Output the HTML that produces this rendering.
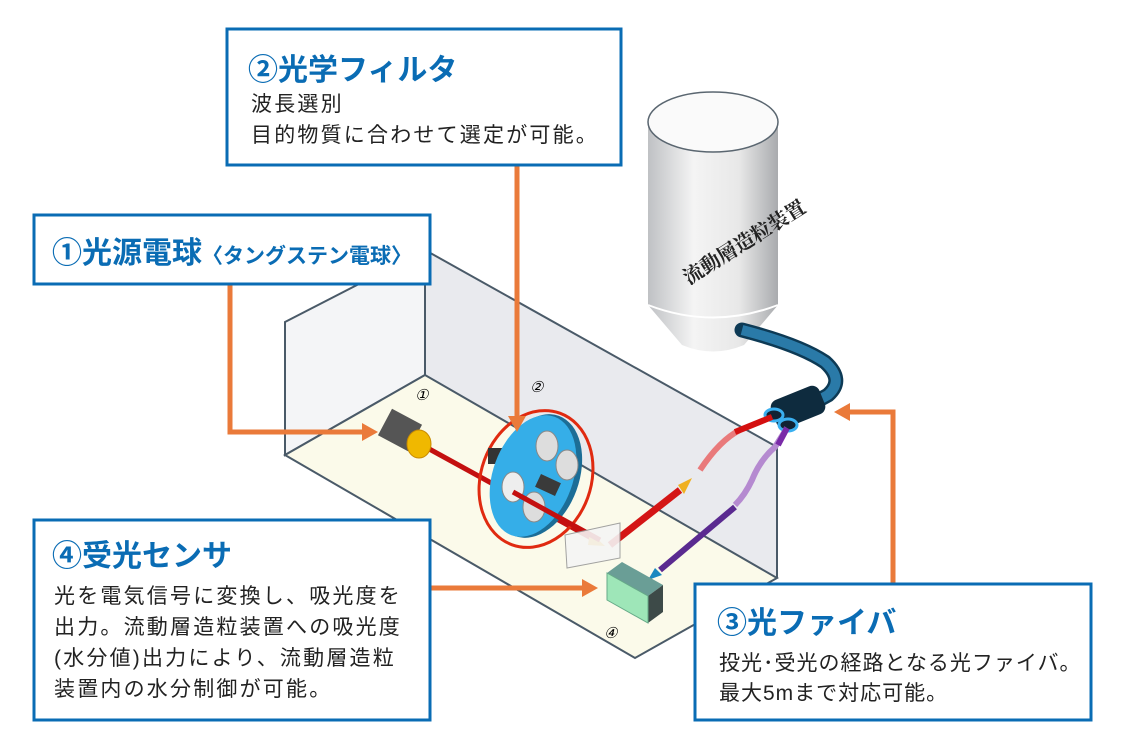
<!DOCTYPE html>
<html><head><meta charset="utf-8"><style>
html,body{margin:0;padding:0;background:#fff}
svg{display:block}
.t{font-family:"Liberation Sans","Noto Sans CJK JP",sans-serif}
</style></head><body>
<svg width="1125" height="750" viewBox="0 0 1125 750" xmlns="http://www.w3.org/2000/svg">
<defs>
<linearGradient id="silo" x1="0" x2="1"><stop offset="0" stop-color="#bfc1c4"/><stop offset="0.35" stop-color="#f4f4f4"/><stop offset="0.7" stop-color="#e8e8e8"/><stop offset="1" stop-color="#a9abae"/></linearGradient>
</defs>
<polygon points="285,322 425,250 425,375 285,455" fill="#f4f5f7" stroke="#4a5a68" stroke-width="2"/>
<polygon points="425,250 777,447 777,578 425,375" fill="#e9eaee"/>
<polygon points="285,455 425,375 777,578 635,658" fill="#fbfaea" stroke="#4a5a68" stroke-width="2"/>
<line x1="425" y1="250" x2="777" y2="447" stroke="#4a5a68" stroke-width="2"/>
<line x1="425" y1="250" x2="425" y2="375" stroke="#4a5a68" stroke-width="2"/>
<line x1="777" y1="447" x2="777" y2="578" stroke="#4a5a68" stroke-width="2"/>
<path d="M648,122 L648,305 L682,345 Q713,358 744,345 L778,305 L778,122 Z" fill="url(#silo)"/>
<path d="M648,305 Q713,330 778,305" fill="none" stroke="#fff" stroke-width="2"/>
<ellipse cx="713" cy="122" rx="65" ry="30" fill="#fafafa" stroke="#5a6670" stroke-width="1.5"/>
<text x="0" y="0" transform="translate(748,248) rotate(-32)" text-anchor="middle" font-family="Liberation Serif,'Noto Serif CJK SC',serif" font-size="20" font-weight="bold" fill="#222">流動層造粒装置</text>
<path d="M742,330 Q800,345 825,362 Q845,380 828,395 L810,405" fill="none" stroke="#0d3a55" stroke-width="15" stroke-linecap="round"/>
<path d="M742,330 Q800,345 825,362 Q845,380 828,395 L810,405" fill="none" stroke="#2a7aa8" stroke-width="10"/>
<rect x="772" y="392" width="52" height="30" rx="8" fill="#0e2b3e" transform="rotate(-22 798 407)"/>
<ellipse cx="774" cy="415" rx="9" ry="6" fill="#123" stroke="#3ab0f0" stroke-width="3"/>
<ellipse cx="788" cy="425" rx="9" ry="6" fill="#123" stroke="#3ab0f0" stroke-width="3"/>
<path d="M772,417 L740,430 Q720,440 700,470" fill="none" stroke="#e84a4a" stroke-width="6" opacity="0.7"/>
<path d="M772,417 L735,432" stroke="#d41010" stroke-width="6"/>
<path d="M787,428 L775,447 Q760,460 752,480 Q745,495 735,505" fill="none" stroke="#b58ad0" stroke-width="6"/>
<path d="M787,428 L778,445" stroke="#7a2aa8" stroke-width="6"/>
<line x1="422" y1="445" x2="595" y2="540" stroke="#c41010" stroke-width="5"/>
<polygon points="590,532 605,546 588,545" fill="#f0b020"/>
<line x1="610" y1="545" x2="680" y2="490" stroke="#d41515" stroke-width="7"/>
<polygon points="678,485 692,478 684,494" fill="#f0b020"/>
<line x1="735" y1="507" x2="660" y2="570" stroke="#5a2a90" stroke-width="6"/>
<polygon points="655,568 648,580 662,575" fill="#1a88c0"/>
<rect x="383" y="415" width="34" height="30" fill="#555" transform="rotate(28 400 430)"/>
<ellipse cx="419" cy="444" rx="12" ry="14" fill="#f0b800" stroke="#c88a00"/>
<ellipse cx="536" cy="479" rx="55" ry="70" fill="none" stroke="#e02a10" stroke-width="3" transform="rotate(20 536 479)"/>
<rect x="488" y="448" width="16" height="16" fill="#333"/>
<ellipse cx="537" cy="476" rx="42" ry="64" fill="#1c6d96" transform="rotate(20 537 476)"/>
<ellipse cx="533" cy="476" rx="40" ry="63" fill="#35aee8" transform="rotate(20 533 476)"/>
<ellipse cx="547" cy="446" rx="11" ry="15" fill="#ddd" stroke="#888"/>
<ellipse cx="567" cy="465" rx="11" ry="15" fill="#ddd" stroke="#888"/>
<ellipse cx="513" cy="487" rx="11" ry="15" fill="#eee" stroke="#888"/>
<ellipse cx="534" cy="507" rx="11" ry="15" fill="#ddd" stroke="#888"/>
<rect x="537" y="478" width="22" height="14" fill="#3a3a3a" transform="rotate(25 548 485)"/>
<line x1="513" y1="492" x2="600" y2="540" stroke="#c41010" stroke-width="5"/>
<text x="530" y="392" font-family="Liberation Serif,serif" font-size="15" font-style="italic">②</text>
<text x="415" y="400" font-family="Liberation Serif,serif" font-size="15" font-style="italic">①</text>
<polygon points="565,535 620,523 620,558 567,568" fill="#f5f5f5" stroke="#999" opacity="0.9"/>
<polygon points="607,573 622,562 663,585 648,596" fill="#6a9e96"/>
<polygon points="648,596 663,585 663,612 648,623" fill="#3d4a48"/>
<polygon points="607,573 648,596 648,623 607,600" fill="#9ee6b8" stroke="#6a8" stroke-width="1"/>
<text x="604" y="638" font-family="Liberation Serif,serif" font-size="15" font-style="italic">④</text>
<g stroke="#ea7a3a" stroke-width="5" fill="none">
<path d="M517,166 V420"/>
<path d="M230,284 V432 H365"/>
<path d="M430,588 H585"/>
<path d="M893,583 V412 H848"/>
</g>
<g fill="#ea7a3a">
<polygon points="508,416 526,416 517,432"/>
<polygon points="362,423 362,441 378,432"/>
<polygon points="582,579 582,597 598,588"/>
<polygon points="850,403 850,421 834,412"/>
</g>
<g fill="#fff" stroke="#0a6cb4" stroke-width="3">
<rect x="227" y="29" width="394" height="136"/>
<rect x="34" y="215" width="396" height="69"/>
<rect x="34" y="520" width="396" height="200"/>
<rect x="695" y="584" width="396" height="136"/>
</g>
<g class="t" font-size="21" fill="#222" letter-spacing="2.2">
<text x="248" y="80" font-size="30" letter-spacing="0" font-weight="bold" fill="#0a6cb4">②光学フィルタ</text>
<text x="251" y="111">波長選別</text>
<text x="251" y="142">目的物質に合わせて選定が可能。</text>
<text x="52" y="263" font-size="30" letter-spacing="0" font-weight="bold" fill="#0a6cb4">①光源電球<tspan font-size="21">〈タングステン電球〉</tspan></text>
<text x="52" y="566" font-size="30" letter-spacing="0" font-weight="bold" fill="#0a6cb4">④受光センサ</text>
<text x="54" y="603">光を電気信号に変換し、吸光度を</text>
<text x="54" y="634">出力。流動層造粒装置への吸光度</text>
<text x="54" y="665">(水分値)出力により、流動層造粒</text>
<text x="54" y="696">装置内の水分制御が可能。</text>
<text x="717" y="633" font-size="30" letter-spacing="0" font-weight="bold" fill="#0a6cb4">③光ファイバ</text>
<text x="719" y="670" letter-spacing="1">投光･受光の経路となる光ファイバ。</text>
<text x="719" y="700" letter-spacing="1">最大5mまで対応可能。</text>
</g>
</svg>
</body></html>
